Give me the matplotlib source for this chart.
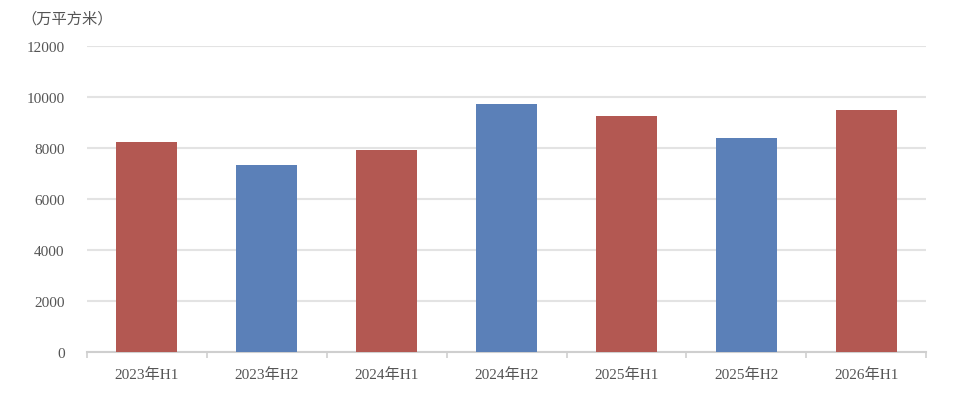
import matplotlib.pyplot as plt
import numpy as np

plt.rcParams['font.family'] = ['Liberation Serif', 'Noto Sans CJK SC', 'DejaVu Sans']

categories = ['2023年H1', '2023年H2', '2024年H1', '2024年H2', '2025年H1', '2025年H2', '2026年H1']
values = [8220, 7320, 7910, 9720, 9250, 8380, 9480]
colors = ['#b35852', '#5b80b8', '#b35852', '#5b80b8', '#b35852', '#5b80b8', '#b35852']

fig = plt.figure(figsize=(9.54, 4.02), dpi=100)
ax = fig.add_axes([0.091, 0.122, 0.880, 0.762])

x = np.arange(len(categories))
ax.bar(x, values, width=0.51, color=colors, zorder=3)

ax.set_xlim(-0.5, len(categories) - 0.5)
ax.set_ylim(0, 12000)
ax.set_yticks(np.arange(0, 12001, 2000))
ax.yaxis.grid(True, color='#e3e3e3', linewidth=1.5, zorder=0)
ax.set_xticks(x)
ax.set_xticklabels(categories)
ax.tick_params(axis='x', length=0, pad=11, labelsize=11, labelcolor='#555555')
ax.tick_params(axis='y', length=0, pad=16, labelsize=11, labelcolor='#555555')

# small ticks between categories
ax.set_xticks(np.arange(-0.5, len(categories)), minor=True)
ax.tick_params(axis='x', which='minor', length=4, color='#cfcfcf', width=1.2)

for s in ['top', 'right', 'left']:
    ax.spines[s].set_visible(False)
ax.spines['bottom'].set_color('#cfcfcf')
ax.spines['bottom'].set_linewidth(1.5)

fig.text(0.022, 0.942, '（万平方米）', fontsize=11, color='#555555',
         family=['Noto Sans CJK SC', 'DejaVu Sans'])

fig.savefig('out.png', dpi=100)
